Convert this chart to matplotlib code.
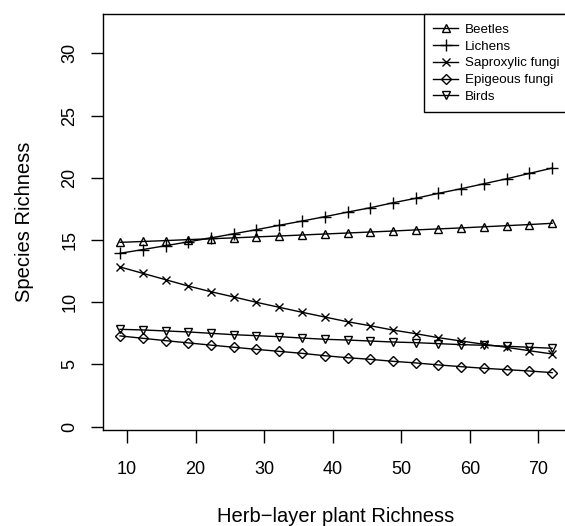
import matplotlib
matplotlib.use("Agg")
from matplotlib import pyplot as plt

plt.rcParams['font.family'] = ['Liberation Sans', 'DejaVu Sans']

# herb-layer plant richness (x) shared by all curves
herb_richness = [9.00, 12.32, 15.63, 18.95, 22.26, 25.58, 28.89, 32.21, 35.53, 38.84,
                 42.16, 45.47, 48.79, 52.11, 55.42, 58.74, 62.05, 65.37, 68.68, 72.00]

beetles = [14.81, 14.88, 14.95, 15.03, 15.10, 15.17, 15.25, 15.32, 15.40, 15.48,
           15.56, 15.64, 15.72, 15.81, 15.89, 15.97, 16.06, 16.15, 16.24, 16.34]
lichens = [13.93, 14.23, 14.54, 14.85, 15.17, 15.50, 15.83, 16.18, 16.52, 16.87,
           17.24, 17.59, 17.99, 18.35, 18.75, 19.12, 19.52, 19.92, 20.35, 20.78]
saproxylic = [12.83, 12.32, 11.81, 11.30, 10.84, 10.42, 9.99, 9.59, 9.19, 8.81,
              8.43, 8.11, 7.76, 7.47, 7.15, 6.88, 6.62, 6.37, 6.10, 5.84]
epigeous = [7.29, 7.10, 6.91, 6.73, 6.55, 6.38, 6.21, 6.05, 5.89, 5.70,
            5.54, 5.41, 5.25, 5.12, 4.96, 4.82, 4.69, 4.58, 4.47, 4.34]
birds = [7.82, 7.77, 7.69, 7.61, 7.50, 7.39, 7.31, 7.23, 7.12, 7.02,
         6.96, 6.88, 6.80, 6.75, 6.67, 6.59, 6.54, 6.46, 6.38, 6.30]

series = [
    ("Beetles", beetles, '^', 6),
    ("Lichens", lichens, '+', 8),
    ("Saproxylic fungi", saproxylic, 'x', 5.5),
    ("Epigeous fungi", epigeous, 'D', 5),
    ("Birds", birds, 'v', 6),
]

x_ticks = [10, 20, 30, 40, 50, 60, 70]
y_ticks = [0, 5, 10, 15, 20, 25, 30]

fig = plt.figure(figsize=(5.65, 5.26), dpi=100)
# R-style plot region; the right edge runs just past the image border
ax = fig.add_axes([0.1828, 0.1825, 0.8242, 0.7909])

for name, values, marker, ms in series:
    ax.plot(herb_richness, values, color='black', lw=1.0, marker=marker,
            markersize=ms, markeredgewidth=1.0, fillstyle='none', label=name)

ax.set_xlim(6.55, 74.45)
ax.set_ylim(-0.27, 33.16)
ax.set_xticks(x_ticks)
ax.set_yticks(y_ticks)
ax.set_yticklabels([str(v) for v in y_ticks], rotation=90, va='center')
ax.tick_params(axis='both', direction='out', length=9, width=1.0, labelsize=13)
ax.tick_params(axis='x', pad=13)
ax.tick_params(axis='y', pad=9)
for spine in ax.spines.values():
    spine.set_linewidth(1.0)

ax.set_xlabel('Herb\u2212layer plant Richness', fontsize=14.5, va='baseline')
ax.xaxis.set_label_coords(0.5, -0.2204)
ax.set_ylabel('Species Richness', fontsize=14.5)
ax.yaxis.set_label_coords(-0.149, 0.5)

leg = ax.legend(loc='upper right', borderaxespad=0, fancybox=False,
                edgecolor='black', fontsize=9.6, handlelength=1.9,
                handletextpad=0.5, labelspacing=0.34, borderpad=0.7,
                framealpha=1)
leg.get_frame().set_linewidth(1.0)

plt.savefig('out.png', dpi=100)
